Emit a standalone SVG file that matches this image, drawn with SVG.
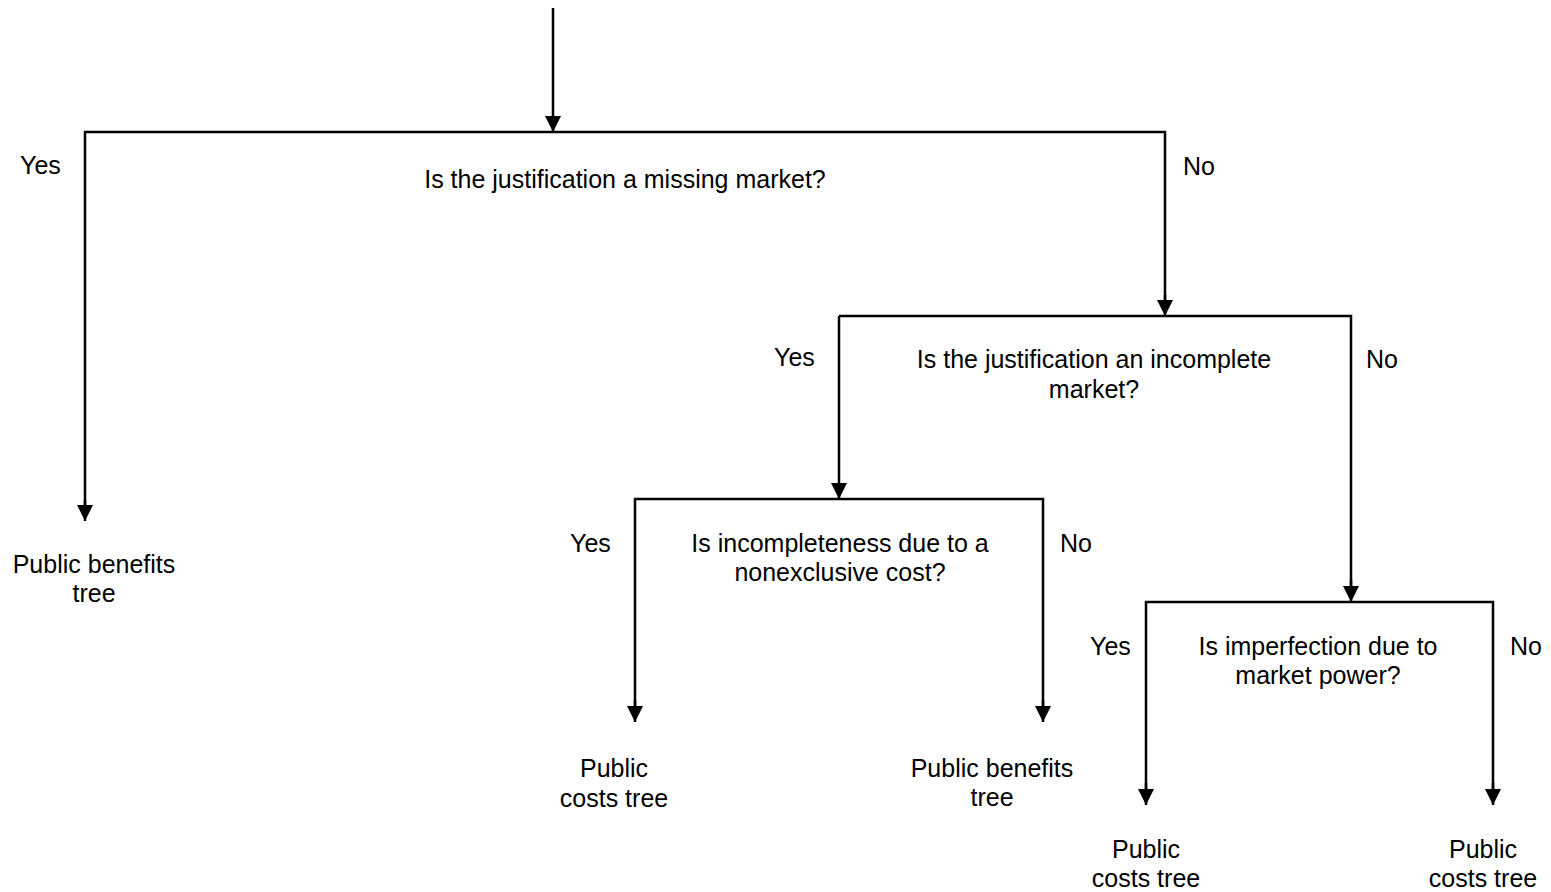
<svg xmlns="http://www.w3.org/2000/svg" width="1551" height="892" viewBox="0 0 1551 892">
<style>
.c{fill:none;stroke:#000;stroke-width:2.5}
text{font-family:"Liberation Sans",Arial,sans-serif;font-size:25px;fill:#000}
.m{text-anchor:middle}
</style>
<defs>
<marker id="ah" markerWidth="16" markerHeight="16" refX="16" refY="8" orient="auto" markerUnits="userSpaceOnUse" viewBox="0 0 16 16">
<path d="M0,0 L16,8 L0,16 Z" fill="#000"/>
</marker>
</defs>
<rect width="1551" height="892" fill="#fff"/>
<g id="connectors">
<line class="c" x1="553" y1="8" x2="553" y2="132" marker-end="url(#ah)"/>
<polyline class="c" points="85,505 85,132 1165,132 1165,305"/>
<line class="c" x1="85" y1="500" x2="85" y2="521" marker-end="url(#ah)"/>
<line class="c" x1="1165" y1="295" x2="1165" y2="316" marker-end="url(#ah)"/>
<polyline class="c" points="839,316 1351,316 1351,590"/>
<line class="c" x1="1351" y1="580" x2="1351" y2="602" marker-end="url(#ah)"/>
<line class="c" x1="839" y1="316" x2="839" y2="499" marker-end="url(#ah)"/>
<polyline class="c" points="635,710 635,499 1043,499 1043,710"/>
<line class="c" x1="635" y1="700" x2="635" y2="722" marker-end="url(#ah)"/>
<line class="c" x1="1043" y1="700" x2="1043" y2="722" marker-end="url(#ah)"/>
<polyline class="c" points="1146,793 1146,602 1493,602 1493,793"/>
<line class="c" x1="1146" y1="783" x2="1146" y2="805" marker-end="url(#ah)"/>
<line class="c" x1="1493" y1="783" x2="1493" y2="805" marker-end="url(#ah)"/>
</g>
<g id="q1">
<text class="m" x="625" y="188">Is the justification a missing market?</text>
<text x="20" y="174">Yes</text>
<text x="1183" y="175">No</text>
</g>
<g id="leaf1">
<text class="m" x="94" y="573">Public benefits</text>
<text class="m" x="94" y="602">tree</text>
</g>
<g id="q2">
<text class="m" x="1094" y="368">Is the justification an incomplete</text>
<text class="m" x="1094" y="398">market?</text>
<text x="774" y="366">Yes</text>
<text x="1366" y="368">No</text>
</g>
<g id="q3">
<text class="m" x="840" y="552">Is incompleteness due to a</text>
<text class="m" x="840" y="581">nonexclusive cost?</text>
<text x="570" y="552">Yes</text>
<text x="1060" y="552">No</text>
</g>
<g id="leaf2">
<text class="m" x="614" y="777">Public</text>
<text class="m" x="614" y="807">costs tree</text>
</g>
<g id="leaf3">
<text class="m" x="992" y="777">Public benefits</text>
<text class="m" x="992" y="806">tree</text>
</g>
<g id="q4">
<text class="m" x="1318" y="655">Is imperfection due to</text>
<text class="m" x="1318" y="684">market power?</text>
<text x="1090" y="655">Yes</text>
<text x="1510" y="655">No</text>
</g>
<g id="leaf4">
<text class="m" x="1146" y="858">Public</text>
<text class="m" x="1146" y="887">costs tree</text>
</g>
<g id="leaf5">
<text class="m" x="1483" y="858">Public</text>
<text class="m" x="1483" y="887">costs tree</text>
</g>
</svg>
